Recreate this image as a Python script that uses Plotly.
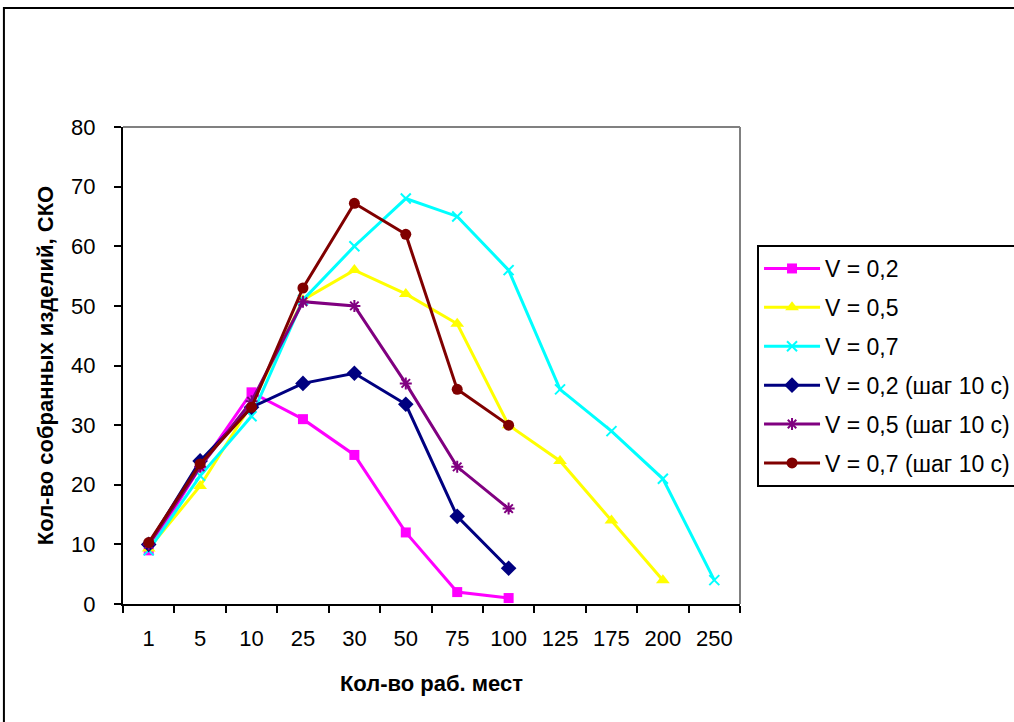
import plotly.graph_objects as go

# Workplace counts (categorical x axis)
workplaces = ["1", "5", "10", "25", "30", "50", "75", "100", "125", "175", "200", "250"]

# Assembled items, standard deviation, per speed setting
v02 = [9, 23, 35.5, 31, 25, 12, 2, 1]
v05 = [9.3, 19.8, 33.5, 51, 56, 52, 47, 30, 24, 14, 4]
v07 = [9, 21.5, 31.5, 51, 60, 68, 65, 56, 36, 29, 21, 4]
v02_step = [10, 24, 33, 37, 38.7, 33.5, 14.7, 6]
v05_step = [10, 23, 34, 50.7, 50, 37, 23, 16]
v07_step = [10.3, 23.5, 33, 53, 67.2, 62, 36, 30]

series = [
    ("V = 0,2", v02, "#FF00FF", dict(symbol="square", size=10)),
    ("V = 0,5", v05, "#FFFF00", dict(symbol="triangle-up", size=12)),
    ("V = 0,7", v07, "#00FFFF", dict(symbol="x-thin-open", size=10, line=dict(width=2, color="#00FFFF"))),
    ("V = 0,2 (шаг 10 с)", v02_step, "#000080", dict(symbol="diamond", size=12)),
    ("V = 0,5 (шаг 10 с)", v05_step, "#800080", dict(symbol="asterisk-open", size=10, line=dict(width=2, color="#800080"))),
    ("V = 0,7 (шаг 10 с)", v07_step, "#800000", dict(symbol="circle", size=11)),
]

FONT = "Arial, Liberation Sans, sans-serif"

fig = go.Figure()
for i, (name, vals, color, marker) in enumerate(series):
    fig.add_trace(go.Scatter(
        x=workplaces[:len(vals)], y=vals, name=name, mode="lines+markers",
        line=dict(color=color, width=3), marker=dict(color=color, **marker),
        legendgroup=f"g{i}",
    ))

fig.update_layout(
    width=1014, height=722,
    paper_bgcolor="white", plot_bgcolor="white",
    margin=dict(l=123, r=274, t=127, b=118, autoexpand=False),
    font=dict(family=FONT, size=22, color="black"),
    showlegend=True,
    legend=dict(
        x=1.0276, y=0.7526, xanchor="left", yanchor="top",
        bordercolor="black", borderwidth=2, bgcolor="white",
        font=dict(family=FONT, size=23, color="black"),
        tracegroupgap=6, itemwidth=56,
    ),
    xaxis=dict(
        type="category", categoryorder="array", categoryarray=workplaces,
        range=[-0.5, len(workplaces) - 0.5],
        showline=True, linecolor="black", linewidth=2,
        ticks="outside", tickson="boundaries", ticklen=7, tickwidth=2, tickcolor="black",
        showgrid=False, ticklabelstandoff=14,
        tickfont=dict(family=FONT, size=22),
        title=dict(text="<b>Кол-во раб. мест</b>", standoff=25,
                   font=dict(family=FONT, size=22)),
    ),
    yaxis=dict(
        range=[0, 80], tickmode="array", tickvals=list(range(0, 81, 10)),
        showline=True, linecolor="black", linewidth=2,
        ticks="outside", ticklen=7, tickwidth=2, tickcolor="black",
        showgrid=False, zeroline=False, ticklabelstandoff=14,
        tickfont=dict(family=FONT, size=22),
        title=dict(text="<b>Кол-во собранных изделий, СКО</b>", standoff=11,
                   font=dict(family=FONT, size=22)),
    ),
    yaxis2=dict(
        range=[0, 80], overlaying="y", side="left",
        tickmode="array", tickvals=list(range(10, 71, 10)),
        showticklabels=False, ticks="",
        showgrid=True, gridcolor="black", gridwidth=3, zeroline=False,
    ),
    shapes=[
        # plot-area top and right border
        dict(type="line", xref="x domain", yref="y domain", x0=0, x1=1, y0=1, y1=1,
             line=dict(color="#808080", width=2), layer="below"),
        dict(type="line", xref="x domain", yref="y domain", x0=1, x1=1, y0=0, y1=1,
             line=dict(color="#808080", width=2), layer="below"),
        # outer chart frame
        dict(type="rect", xref="paper", yref="paper", x0=-0.193, x1=2.0, y0=-1.0, y1=1.2495,
             line=dict(color="black", width=2), fillcolor="rgba(0,0,0,0)", layer="below"),
    ],
)

fig.write_html("out.html")
